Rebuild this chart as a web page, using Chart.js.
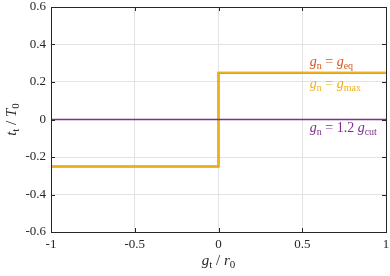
<!DOCTYPE html>
<html><head><meta charset="utf-8">
<script src="https://cdn.jsdelivr.net/npm/chart.js@4/dist/chart.umd.min.js"></script>
<style>html,body{margin:0;padding:0;background:#fff}#wrap{width:390px;height:276px}</style>
</head><body><div id="wrap"><canvas id="c" width="390" height="276"></canvas></div>
<script>
const xStep = [-1, 0, 0, 1];
const yEq = [-0.25, -0.25, 0.25, 0.25];
const yMax = [-0.25, -0.25, 0.25, 0.25];
const xCut = [-1, 1];
const yCut = [0, 0];
const xTicks = [-1, -0.5, 0, 0.5, 1];
const yTicks = [-0.6, -0.4, -0.2, 0, 0.2, 0.4, 0.6];
const seriesNames = ['g_n = g_eq', 'g_n = g_max', 'g_n = 1.2 g_cut'];

const C_EQ = '#D95319', C_MAX = '#EDB120', C_CUT = '#7E2F8E';
const pts = (xs, ys) => xs.map((x, i) => ({x, y: ys[i]}));
const SERIF = '"Liberation Serif","DejaVu Serif",serif';

function drawRich(ctx, segs, x, y, size, color, align) {
  const fontFor = s => s === 'i' ? `italic ${size}px ${SERIF}` : s === 's' ? `${Math.round(size*0.72)}px ${SERIF}` : `${size}px ${SERIF}`;
  let w = 0;
  segs.forEach(([t, s]) => { ctx.font = fontFor(s); w += ctx.measureText(t).width; });
  let cx = align === 'center' ? x - w/2 : x;
  ctx.fillStyle = color; ctx.textBaseline = 'alphabetic'; ctx.textAlign = 'left';
  segs.forEach(([t, s]) => {
    ctx.font = fontFor(s);
    ctx.fillText(t, cx, s === 's' ? y + size*0.22 : y);
    cx += ctx.measureText(t).width;
  });
}

const deco = {
  id: 'deco',
  afterDatasetsDraw(chart) {
    const {ctx, chartArea: a, scales: {x, y}} = chart;
    ctx.save();
    ctx.strokeStyle = '#262626'; ctx.lineWidth = 1;
    ctx.strokeRect(Math.round(a.left)+0.5, Math.round(a.top)+0.5, Math.round(a.right-a.left), Math.round(a.bottom-a.top));
    const L = 4;
    ctx.beginPath();
    xTicks.forEach(v => { const px = Math.round(x.getPixelForValue(v))+0.5;
      ctx.moveTo(px, a.bottom); ctx.lineTo(px, a.bottom - L);
      ctx.moveTo(px, a.top); ctx.lineTo(px, a.top + L); });
    yTicks.forEach(v => { const py = Math.round(y.getPixelForValue(v))+0.5;
      ctx.moveTo(a.left, py); ctx.lineTo(a.left + L, py);
      ctx.moveTo(a.right, py); ctx.lineTo(a.right - L, py); });
    ctx.stroke();
    const lx = x.getPixelForValue(0.545);
    drawRich(ctx, [['g','i'],['n','s'],[' = ','r'],['g','i'],['eq','s']], lx, y.getPixelForValue(0.285), 14, C_EQ);
    drawRich(ctx, [['g','i'],['n','s'],[' = ','r'],['g','i'],['max','s']], lx, y.getPixelForValue(0.17), 14, C_MAX);
    drawRich(ctx, [['g','i'],['n','s'],[' = 1.2 ','r'],['g','i'],['cut','s']], lx, y.getPixelForValue(-0.065), 14, C_CUT);
    drawRich(ctx, [['g','i'],['t','s'],[' / ','r'],['r','i'],['0','s']], (a.left+a.right)/2, 265, 15, '#262626', 'center');
    ctx.translate(16, (a.top+a.bottom)/2);
    ctx.rotate(-Math.PI/2);
    drawRich(ctx, [['t','i'],['t','s'],[' / ','r'],['T','i'],['0','s']], 0, 0, 15, '#262626', 'center');
    ctx.restore();
  }
};

new Chart(document.getElementById('c'), {
  type: 'line',
  data: {
    datasets: [
      {label: seriesNames[0], data: pts(xStep, yEq), borderColor: C_EQ, borderWidth: 2.0, pointRadius: 0, fill: false, tension: 0, order: 3},
      {label: seriesNames[1], data: pts(xStep, yMax), borderColor: C_MAX, borderWidth: 1.5, pointRadius: 0, fill: false, tension: 0, order: 2},
      {label: seriesNames[2], data: pts(xCut, yCut), borderColor: C_CUT, borderWidth: 1.5, pointRadius: 0, fill: false, tension: 0, order: 1}
    ]
  },
  options: {
    responsive: false, animation: false,
    layout: {padding: {top: 7, right: 4, left: 0, bottom: 0}},
    plugins: {legend: {display: false}, tooltip: {enabled: false}},
    scales: {
      x: {type: 'linear', min: -1, max: 1,
        afterBuildTicks: s => { s.ticks = xTicks.map(v => ({value: v})); },
        afterFit: s => { s.height = 44; s.paddingLeft = 0; s.paddingRight = 0; },
        grid: {color: '#e3e3e3', drawTicks: false}, border: {display: false},
        ticks: {color: '#262626', padding: 5, font: {family: SERIF, size: 13}, callback: v => String(v), maxRotation: 0}},
      y: {type: 'linear', min: -0.6, max: 0.6,
        afterBuildTicks: s => { s.ticks = yTicks.map(v => ({value: v})); },
        afterFit: s => { s.width = 51; s.paddingTop = 0; s.paddingBottom = 0; },
        grid: {color: '#e3e3e3', drawTicks: false}, border: {display: false},
        ticks: {color: '#262626', padding: 5, font: {family: SERIF, size: 13}, callback: v => String(Math.round(v*10)/10)}}
    }
  },
  plugins: [deco]
});
</script></body></html>
